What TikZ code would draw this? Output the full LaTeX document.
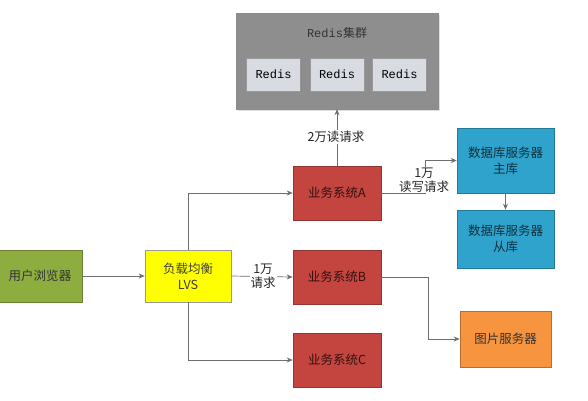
\documentclass[tikz,border=0pt]{standalone}
\usepackage{fontspec}
\setmainfont{Noto Sans CJK SC}
\newfontfamily\monof{Liberation Mono}
\newfontfamily\cjkf{Noto Sans CJK SC}
\usetikzlibrary{arrows.meta,shadows}
\definecolor{clgray}{HTML}{8E8E8E}
\definecolor{rdbox}{HTML}{D8DBE2}
\definecolor{bizred}{HTML}{C4453F}
\definecolor{dbblue}{HTML}{2FA3CB}
\definecolor{usrgreen}{HTML}{8DAD40}
\definecolor{lvsyel}{HTML}{FFFF00}
\definecolor{imgorg}{HTML}{F6943F}
\definecolor{linegray}{HTML}{6E6E6E}
\tikzset{
  box/.style={draw=#1!75!black, line width=0.6pt, fill=#1, minimum width=88pt, minimum height=54pt, inner sep=1pt, align=center, font=\fontsize{12.5}{16}\selectfont},
  conn/.style={draw=linegray, line width=0.7pt, -{Stealth[length=6pt,width=5pt]}},
  lbl/.style={fill=white, inner sep=1pt, align=center, font=\fontsize{12.5}{13.5}\selectfont, text=black!85},
  redisbox/.style={draw=black!40, fill=rdbox, minimum width=54pt, minimum height=33pt, font=\monof\fontsize{12}{14}\selectfont, drop shadow={opacity=0.3,shadow xshift=1pt,shadow yshift=-1pt}},
}
\begin{document}
\begin{tikzpicture}[x=1pt,y=-1pt]
\useasboundingbox (0,0) rectangle (588,400);
\fill[white] (0,0) rectangle (588,400);
% Redis cluster
\node[draw=black!45, fill=clgray, minimum width=202pt, minimum height=96pt, drop shadow={opacity=0.25,shadow xshift=1.5pt,shadow yshift=-1.5pt}] (cluster) at (337,61) {};
\node[font=\monof\fontsize{12}{14}\selectfont, text=black!80] (ctitle) at (337,33) {Redis{\cjkf 集群}};
\node[redisbox] (r1) at (273.5,74.5) {Redis};
\node[redisbox] (r2) at (337,74.5) {Redis};
\node[redisbox] (r3) at (399.5,74.5) {Redis};
% business systems
\node[box=bizred, text=black!75!bizred] (A) at (337,193) {业务系统A};
\node[box=bizred, text=black!75!bizred] (B) at (337,277) {业务系统B};
\node[box=bizred, text=black!75!bizred] (C) at (337,360) {业务系统C};
% databases
\node[box=dbblue, minimum width=97pt, minimum height=65pt, text=black!70!dbblue] (master) at (505.5,160.5) {数据库服务器\\主库};
\node[box=dbblue, minimum width=97pt, minimum height=58pt, text=black!70!dbblue] (slave) at (505.5,239) {数据库服务器\\从库};
% user and LVS
\node[box=usrgreen, minimum width=84pt, minimum height=52pt, text=black!80] (user) at (40,276) {用户浏览器};
\node[box=lvsyel, minimum width=86pt, minimum height=52pt, draw=black!40, text=black!75] (lvs) at (188,276) {负载均衡\\LVS};
% image server
\node[box=imgorg, minimum width=91pt, minimum height=56pt, text=black!80] (img) at (505.5,339) {图片服务器};
% connectors
\draw[conn] (A.north) -- (cluster.south);
\node[lbl] (l2) at (336,137) {2万读请求};
\draw[conn] (user.east) -- (lvs.west);
\draw[conn] (lvs.east) -- (B.west);
\node[lbl] (l1) at (263,276) {1万\\请求};
\draw[conn] (lvs.north) |- (A.west);
\draw[conn] (lvs.south) |- (C.west);
\coordinate (ja) at (425,193);
\draw[conn] (A.east) -- (ja) |- (master.west);
\node[lbl] (l3) at (424,180) {1万\\读写请求};
\draw[conn] (master.south) -- (slave.north);
\coordinate (jb) at (428,277);
\draw[conn] (B.east) -- (jb) |- (img.west);
\end{tikzpicture}
\end{document}
